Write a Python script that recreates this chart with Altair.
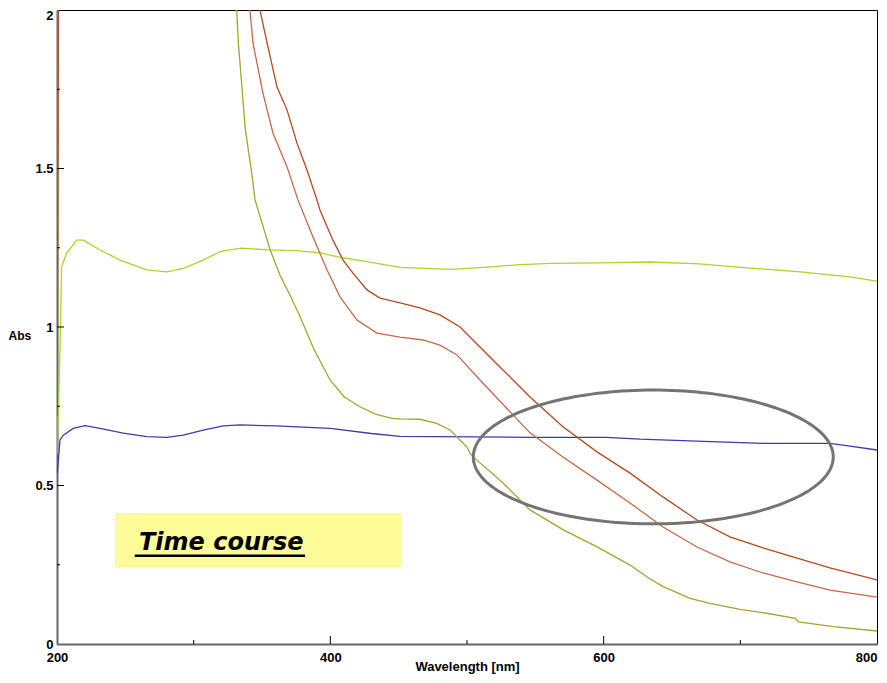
import altair as alt
import pandas as pd
import numpy as np

X_TITLE = "Wavelength [nm]"
Y_TITLE = "Abs"
X_TICKS = [200, 400, 600, 800]
Y_TICKS = [0, 0.5, 1, 1.5, 2]
X_MINOR = [300, 500, 700]
X_MAJOR_IN = [400, 600]
Y_MINOR = [0.25, 0.75, 1.25, 1.75]
Y_MAJOR_IN = [0.5, 1.0, 1.5]

# Series
blue_wl = [200.2, 202.2, 204.6, 211.9, 220.5, 231.5, 248.5, 265.6, 280.3, 292.4, 307.0, 321.7,
           333.9, 360, 400, 430, 451, 546, 602, 626.6, 668, 716.6, 765.6, 777.8, 800]
blue_abs = [0.538, 0.644, 0.659, 0.680, 0.689, 0.680, 0.665, 0.654, 0.652, 0.659, 0.675, 0.688,
            0.691, 0.688, 0.680, 0.664, 0.655, 0.652, 0.652, 0.646, 0.640, 0.633, 0.633, 0.626, 0.612]

lime_wl = [200.3, 202.2, 203.4, 207.1, 214.4, 219.3, 231.5, 246.1, 265.6, 280.3, 292.4, 307.0,
           319.3, 326.6, 335, 354, 377.8, 392.4, 407.1, 426.6, 451.0, 487.6, 511.9, 536.4, 560.7,
           597, 634, 670, 707, 744, 780, 800]
lime_abs = [0.62, 0.937, 1.19, 1.233, 1.274, 1.274, 1.243, 1.211, 1.180, 1.174, 1.185, 1.211,
            1.238, 1.243, 1.249, 1.243, 1.240, 1.234, 1.220, 1.206, 1.188, 1.182, 1.188, 1.196, 1.201,
            1.202, 1.205, 1.199, 1.186, 1.174, 1.158, 1.145]

olive_wl = [200.3, 201.2, 330.5, 331.5, 332.7, 335.1, 337.6, 340.0, 342.5, 344.9, 356, 363.5, 370.5,
            377.8, 388, 399.8, 410, 421, 433, 445, 451, 465.6, 477.8, 487.6, 492.5, 496.1, 499.8,
            502.2, 507.1, 516.8, 526.6, 537.5, 546.1, 570.5, 594.9, 619.3, 633.9, 643.6, 663.2,
            677.8, 699.8, 719.3, 740.2, 742.6, 768.0, 800]
olive_abs = [0.60, 2.6, 2.05, 2.0, 1.895, 1.769, 1.632, 1.558, 1.485, 1.401, 1.243, 1.16, 1.10,
             1.033, 0.93, 0.833, 0.78, 0.75, 0.725, 0.712, 0.710, 0.709, 0.696, 0.675, 0.654, 0.638, 0.622,
             0.602, 0.580, 0.544, 0.507, 0.460, 0.423, 0.360, 0.307, 0.249, 0.205, 0.181, 0.144,
             0.128, 0.109, 0.097, 0.081, 0.070, 0.055, 0.041]

brownA_wl = [200.0, 201.0, 340.5, 341.2, 343.4, 350.7, 358.0, 368.3, 376.3, 387.3, 397.6, 407.1,
             419.5, 434.1, 451.0, 467.8, 480.2, 492.7, 509.5, 546.1, 570.2, 595.1, 619.3, 643.4,
             668.3, 692.4, 716.6, 741.5, 765.6, 800]
brownA_abs = [0.72, 2.6, 2.03, 2.0, 1.896, 1.738, 1.612, 1.505, 1.401, 1.284, 1.180, 1.095,
              1.022, 0.981, 0.968, 0.959, 0.943, 0.912, 0.833, 0.666, 0.590, 0.517, 0.445, 0.369,
              0.306, 0.259, 0.224, 0.196, 0.170, 0.148]

brownB_wl = [200.1, 201.3, 347.8, 348.5, 353.7, 361.0, 368.3, 375.6, 382.9, 390.2, 392.4, 401.9,
             409.3, 416.6, 426.8, 436.3, 451.0, 465.6, 480.2, 494.9, 509.5, 524.1, 533.7, 546.1,
             570.2, 595.1, 619.3, 643.4, 668.3, 692.4, 716.6, 741.5, 765.6, 800]
brownB_abs = [0.72, 2.6, 2.03, 2.0, 1.896, 1.757, 1.685, 1.580, 1.495, 1.401, 1.369, 1.274,
              1.211, 1.170, 1.117, 1.091, 1.076, 1.060, 1.038, 1.000, 0.937, 0.874, 0.833, 0.779,
              0.685, 0.606, 0.539, 0.464, 0.391, 0.338, 0.303, 0.271, 0.240, 0.202]

series_names = ["blue", "lime", "olive", "brownA", "brownB"]
series_colors = ["#3c3cac", "#a8d62c", "#a4a62a", "#c66a46", "#b8481e"]

# Annotation: ellipse (centre and radii in data units), text box
ell_cx, ell_cy, ell_rx, ell_ry = 636.3, 0.590, 131.7, 0.211
box_x1, box_x2, box_y1, box_y2 = 242.4, 451.7, 0.243, 0.413
label_text = "Time course"
label_x, label_y = 260.0, 0.295
under_x1, under_x2, under_y = 256.9, 381.5, 0.278

rows = []
for name, wl, ab in [("blue", blue_wl, blue_abs), ("lime", lime_wl, lime_abs),
                     ("olive", olive_wl, olive_abs), ("brownA", brownA_wl, brownA_abs),
                     ("brownB", brownB_wl, brownB_abs)]:
    for i, (w, a) in enumerate(zip(wl, ab)):
        rows.append({"series": name, "wl": w, "abs": a, "i": i})
df = pd.DataFrame(rows)

t = np.linspace(0, 2 * np.pi, 181)
ell_df = pd.DataFrame({"wl": ell_cx + ell_rx * np.cos(t), "abs": ell_cy + ell_ry * np.sin(t),
                       "i": np.arange(len(t))})

xs = alt.Scale(domain=[200, 800], nice=False, zero=False)
ys = alt.Scale(domain=[0, 2], nice=False, zero=False)

x_axis = alt.Axis(values=X_TICKS, title=X_TITLE, ticks=False, grid=False, labelFlush=False,
                  labelPadding=7, labelFont="Liberation Sans", labelFontSize=13, labelFontWeight="bold",
                  labelColor="#000", titleFont="Liberation Sans", titleFontSize=13, titleFontWeight="bold",
                  titleColor="#000", titleY=26, titleBaseline="alphabetic",
                  domainColor="#666", domainWidth=2, format="d",
                  labelAlign={"condition": {"test": "datum.value == 800", "value": "right"}, "value": "center"})
y_axis = alt.Axis(values=Y_TICKS, title=Y_TITLE, ticks=False, grid=False, labelFlush=False,
                  labelPadding=4, labelFont="Liberation Sans", labelFontSize=13, labelFontWeight="bold",
                  labelColor="#000", titleFont="Liberation Sans", titleFontSize=12, titleFontWeight="bold",
                  titleColor="#000", titleAngle=0, titleX=-49, titleY=325, titleAlign="left",
                  titleBaseline="middle", domainColor="#666", domainWidth=2, format="~g",
                  labelOffset={"condition": {"test": "datum.value == 2", "value": 5}, "value": 0})


def X(field):
    return alt.X(field, scale=xs, axis=x_axis)


def Y(field):
    return alt.Y(field, scale=ys, axis=y_axis)


lines = alt.Chart(df).mark_line(clip=True, strokeWidth=1.3).encode(
    x=X("wl:Q"),
    y=Y("abs:Q"),
    color=alt.Color("series:N", scale=alt.Scale(domain=series_names, range=series_colors), legend=None),
    detail="series:N",
    order="i:Q",
)

ellipse = alt.Chart(ell_df).mark_line(clip=True, color="#747474", strokeWidth=3).encode(
    x=X("wl:Q"),
    y=Y("abs:Q"),
    order="i:Q",
)

ann = pd.DataFrame({"x1": [box_x1], "x2": [box_x2], "y1": [box_y1], "y2": [box_y2],
                    "tx": [label_x], "ty": [label_y], "txt": [label_text],
                    "ux1": [under_x1], "ux2": [under_x2], "uy": [under_y]})

box = alt.Chart(ann).mark_rect(color="#fdfb98").encode(
    x=X("x1:Q"), x2="x2:Q",
    y=Y("y1:Q"), y2="y2:Q",
)
txt = alt.Chart(ann).mark_text(align="left", baseline="alphabetic", font="DejaVu Sans",
                               fontSize=24, fontWeight="bold", fontStyle="italic", color="#000").encode(
    x=X("tx:Q"),
    y=Y("ty:Q"),
    text="txt:N",
)
underline = alt.Chart(ann).mark_rule(color="#000", strokeWidth=2.5).encode(
    x=X("ux1:Q"), x2="ux2:Q",
    y=Y("uy:Q"),
)

# inward tick marks
xmaj = alt.Chart(pd.DataFrame({"v": X_MAJOR_IN})).mark_rule(color="#000", strokeWidth=1).encode(
    x=X("v:Q"), y=alt.value(634), y2=alt.value(626))
xmin = alt.Chart(pd.DataFrame({"v": X_MINOR})).mark_rule(color="#000", strokeWidth=1).encode(
    x=X("v:Q"), y=alt.value(634), y2=alt.value(630))
ymaj = alt.Chart(pd.DataFrame({"v": Y_MAJOR_IN})).mark_rule(color="#000", strokeWidth=1).encode(
    y=Y("v:Q"), x=alt.value(0), x2=alt.value(7))
ymin = alt.Chart(pd.DataFrame({"v": Y_MINOR})).mark_rule(color="#000", strokeWidth=1).encode(
    y=Y("v:Q"), x=alt.value(0), x2=alt.value(3))

chart = alt.layer(lines, box, ellipse, underline, txt, xmaj, xmin, ymaj, ymin).properties(
    width=820, height=634,
    autosize=alt.AutoSizeParams(type="none"),
    padding={"left": 49, "top": 2, "right": 1, "bottom": 30},
    background="#ffffff",
).configure_view(stroke="#000", strokeWidth=1)

chart.save("out.html", embed_options={"renderer": "svg", "actions": False})
